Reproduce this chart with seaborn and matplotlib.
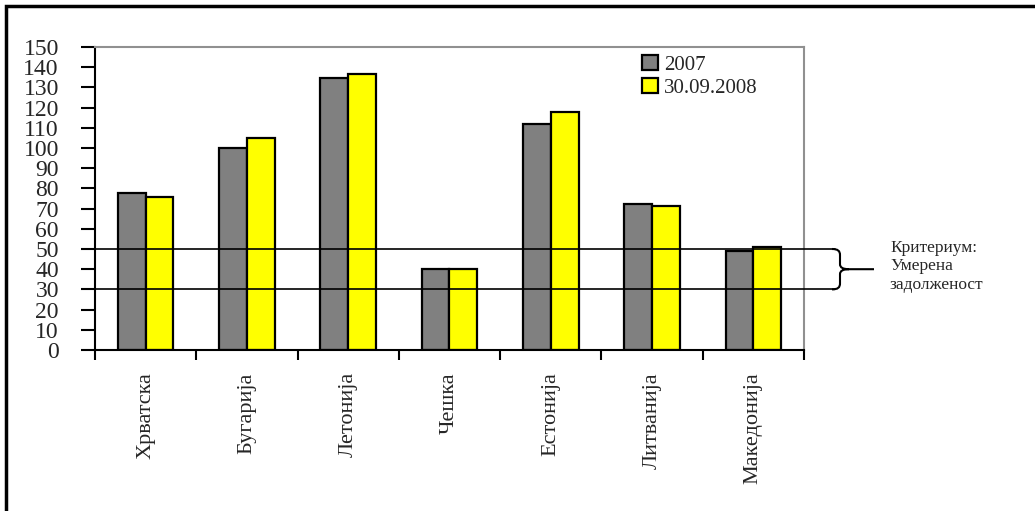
import pandas as pd
import matplotlib.pyplot as plt
import seaborn as sns
from matplotlib.path import Path
from matplotlib.patches import PathPatch, Rectangle
from matplotlib.transforms import blended_transform_factory

# Податоци прочитани од графиконот
drzavi = ['Хрватска', 'Бугарија', 'Летонија', 'Чешка', 'Естонија', 'Литванија', 'Македонија']
vrednosti_2007 = [77.5, 100, 134.5, 40, 112, 72.5, 49]
vrednosti_2008 = [75.5, 105, 136.5, 40, 118, 71.5, 51]
serii = ['2007', '30.09.2008']
kriterium = [30, 50]

df = pd.DataFrame({
    'Drzava': drzavi * 2,
    'Vrednost': vrednosti_2007 + vrednosti_2008,
    'Serija': [serii[0]] * len(drzavi) + [serii[1]] * len(drzavi),
})

sns.set_style('white')
plt.rcParams['font.family'] = ['Liberation Serif', 'DejaVu Serif']

W, H = 1035, 511
fig = plt.figure(figsize=(W / 100, H / 100), dpi=100)
ax = fig.add_axes([95 / W, 1 - 350 / H, 709 / W, 303 / H])

sns.barplot(
    data=df, x='Drzava', y='Vrednost', hue='Serija',
    palette=['#808080', '#FFFF00'], saturation=1, width=0.55,
    edgecolor='black', linewidth=1.6, ax=ax, zorder=2,
)

ax.set_ylim(0, 150)
ax.set_xlim(-0.5, len(drzavi) - 0.5)
ax.set_yticks(range(0, 151, 10))
ax.set_xlabel('')
ax.set_ylabel('')

# оски
for s in ['left', 'bottom']:
    ax.spines[s].set_color('black')
    ax.spines[s].set_linewidth(1.5)
for s in ['top', 'right']:
    ax.spines[s].set_color('#909090')
    ax.spines[s].set_linewidth(1.5)

ax.tick_params(axis='y', direction='out', length=10, width=1.5, left=True,
               labelsize=17, pad=16, color='black')
ax.set_xticks(range(len(drzavi)))
ax.set_xticklabels(drzavi, rotation=90, fontsize=16)
ax.set_xticks([i - 0.5 for i in range(len(drzavi) + 1)], minor=True)
ax.tick_params(axis='x', which='major', length=0, pad=16)
ax.tick_params(axis='x', which='minor', direction='out', length=7, width=1.5,
               bottom=True, color='black')

# линии за критериумот
x_kraj = (835 - 95) / 709
for k in kriterium:
    ax.axhline(k, xmin=0, xmax=x_kraj, color='black', linewidth=1.2,
               clip_on=False, zorder=3)

# заграда
tr = blended_transform_factory(fig.transFigure, ax.transData)
px = lambda v: v / W
verts = [
    (px(832), 50), (px(838), 50), (px(840), 49), (px(840), 47),
    (px(840), 42.5),
    (px(840), 40.8), (px(843), 40), (px(849), 40),
    (px(874), 40),
    (px(849), 40),
    (px(843), 40), (px(840), 39.2), (px(840), 37.5),
    (px(840), 33),
    (px(840), 31), (px(838), 30), (px(832), 30),
]
codes = [Path.MOVETO, Path.CURVE4, Path.CURVE4, Path.CURVE4,
         Path.LINETO,
         Path.CURVE4, Path.CURVE4, Path.CURVE4,
         Path.LINETO,
         Path.MOVETO,
         Path.CURVE4, Path.CURVE4, Path.CURVE4,
         Path.LINETO,
         Path.CURVE4, Path.CURVE4, Path.CURVE4]
fig.patches.append(PathPatch(Path(verts, codes), transform=tr, fill=False,
                             edgecolor='black', linewidth=1.5))

fig.text(890 / W, 1 - 240 / H, 'Критериум:\nУмерена\nзадолженост',
         fontsize=12.5, va='top', ha='left', linespacing=1.2)

# легенда
ax.legend(title=None, loc='upper left', bbox_to_anchor=(642 / W, 1 - 55 / H),
          bbox_transform=fig.transFigure, frameon=False, fontsize=15,
          handlelength=0.75, handleheight=0.75, handletextpad=0.3,
          labelspacing=0.15, borderpad=0, borderaxespad=0)

# рамка околу сликата
fig.patches.append(Rectangle((6 / W, -0.05), 1.1, 1 - 6 / H + 0.05,
                             transform=fig.transFigure, fill=False,
                             edgecolor='black', linewidth=2.5))

plt.savefig('out.png', dpi=100)
plt.close()
